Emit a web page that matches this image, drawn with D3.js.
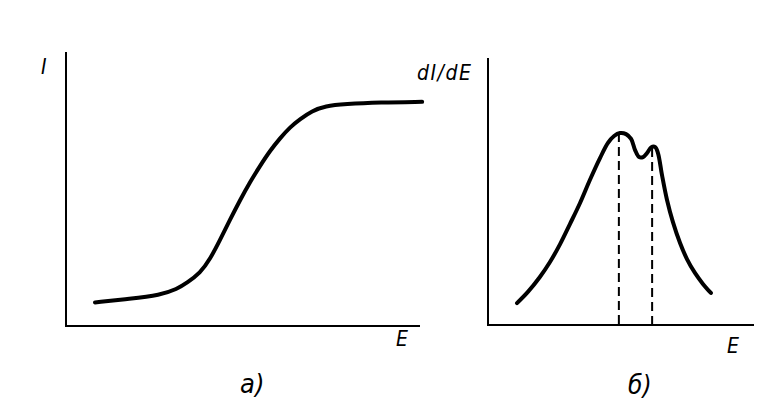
<!DOCTYPE html>
<html>
<head>
<meta charset="utf-8">
<script src="https://cdn.jsdelivr.net/npm/d3@7"></script>
<style>
  body { margin: 0; background: #fff; }
  .lbl { font-family: "DejaVu Sans Condensed", "DejaVu Sans", sans-serif; font-style: italic; font-size: 21px; fill: #000; }
</style>
</head>
<body>
<div id="chart"></div>
<script>
// panel a) : I(E), arbitrary units 0..100
let curveE = [8.2, 18.1, 26.6, 31.4, 34.2, 37.9, 40.7, 43.5, 46.3, 49.2, 52.0, 54.8, 57.6, 60.5, 63.3, 66.1, 69.5, 73.2, 78.8, 88.7, 100.6];
let curveI = [8.6, 9.9, 11.3, 13.5, 15.8, 19.3, 24.4, 31.4, 38.7, 46.0, 52.6, 58.4, 63.9, 68.6, 72.6, 75.5, 78.5, 80.3, 81.0, 81.6, 81.8];

// panel б) : dI/dE, arbitrary units 0..100
let derivE = [10.9, 15.0, 19.5, 23.3, 27.1, 30.8, 34.6, 38.3, 42.1, 45.1, 47.4, 49.6, 51.9, 53.8, 55.3, 56.8, 58.3, 59.8, 61.3, 62.8, 63.9, 65.4, 67.3, 69.5, 72.2, 74.8, 77.8, 80.8, 83.8];
let derivD = [8.2, 12.4, 18.0, 23.6, 30.3, 37.8, 45.7, 54.3, 62.5, 68.2, 70.8, 71.9, 71.5, 69.7, 65.5, 62.9, 62.9, 64.4, 66.5, 66.7, 64.4, 56.2, 46.8, 38.6, 30.7, 24.7, 19.5, 15.4, 12.0];

// dashed markers under the two peaks
let peakE = [49.2, 61.7];
let peakD = [71.9, 66.3];

let width = 782;
let height = 419;

let svg = d3.select("#chart").append("svg")
  .attr("width", width)
  .attr("height", height);

// scales for each panel
let xA = d3.scaleLinear().domain([0, 100]).range([66, 420]);
let yA = d3.scaleLinear().domain([0, 100]).range([326, 52]);
let xB = d3.scaleLinear().domain([0, 100]).range([488, 754]);
let yB = d3.scaleLinear().domain([0, 100]).range([325, 58]);

function drawAxes(x, y) {
  svg.append("path")
    .attr("d", "M" + x(0) + "," + y(100) + "L" + x(0) + "," + y(0) + "L" + x(100) + "," + y(0))
    .attr("fill", "none")
    .attr("stroke", "#000")
    .attr("stroke-width", 2);
}

drawAxes(xA, yA);
drawAxes(xB, yB);

// curve a)
let lineA = d3.line()
  .x(function(d) { return xA(d[0]); })
  .y(function(d) { return yA(d[1]); })
  .curve(d3.curveBasis);

svg.append("path")
  .datum(d3.zip(curveE, curveI))
  .attr("d", lineA)
  .attr("fill", "none")
  .attr("stroke", "#000")
  .attr("stroke-width", 4)
  .attr("stroke-linecap", "round");

// curve б)
let lineB = d3.line()
  .x(function(d) { return xB(d[0]); })
  .y(function(d) { return yB(d[1]); })
  .curve(d3.curveCatmullRom);

svg.append("path")
  .datum(d3.zip(derivE, derivD))
  .attr("d", lineB)
  .attr("fill", "none")
  .attr("stroke", "#000")
  .attr("stroke-width", 4)
  .attr("stroke-linecap", "round");

svg.selectAll(".peak")
  .data(d3.zip(peakE, peakD))
  .enter().append("line")
  .attr("class", "peak")
  .attr("x1", function(d) { return xB(d[0]); })
  .attr("x2", function(d) { return xB(d[0]); })
  .attr("y1", function(d) { return yB(d[1]); })
  .attr("y2", yB(0))
  .attr("stroke", "#000")
  .attr("stroke-width", 2)
  .attr("stroke-dasharray", "9,5");

// labels
svg.append("text").attr("class", "lbl").attr("x", 41).attr("y", 74).text("I");
svg.append("text").attr("class", "lbl").attr("x", 396).attr("y", 346).text("E");
svg.append("text").attr("class", "lbl").attr("x", 240).attr("y", 393)
  .style("font-size", "27px").text("a)");

svg.append("text").attr("class", "lbl").attr("x", 417).attr("y", 80)
  .style("letter-spacing", "1.5px").text("dI/dE");
svg.append("text").attr("class", "lbl").attr("x", 727).attr("y", 353).text("E");
svg.append("text").attr("class", "lbl").attr("x", 628).attr("y", 394)
  .style("font-size", "26px").text("б)");
</script>
</body>
</html>
